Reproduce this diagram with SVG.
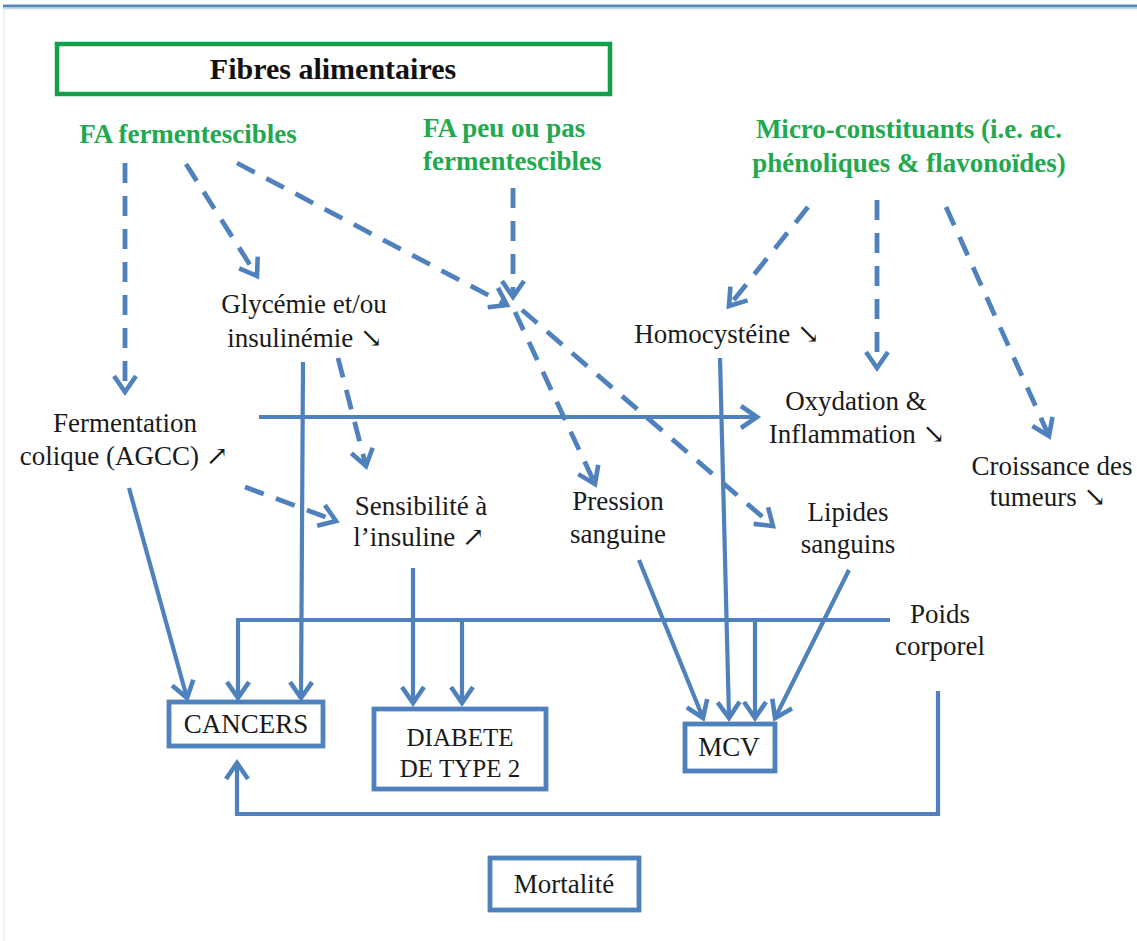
<svg xmlns="http://www.w3.org/2000/svg" width="1137" height="941" viewBox="0 0 1137 941">
<defs>
<style>
.ln{fill:none;stroke:#4F81BD;stroke-width:4.2;stroke-linecap:butt;stroke-linejoin:miter}
.dash{fill:none;stroke:#4F81BD;stroke-width:4.8;stroke-dasharray:20 13}
.box{fill:#fff;stroke:#4F81BD;stroke-width:4.8}
.lbl{font-family:"Liberation Serif","DejaVu Serif",serif;font-size:27px;fill:#1a1a1a;text-anchor:middle}
.grn{font-family:"Liberation Serif","DejaVu Serif",serif;font-size:27px;font-weight:bold;fill:#22a94f}
</style>
<marker id="ah" markerUnits="userSpaceOnUse" viewBox="0 0 24 28" markerWidth="24" markerHeight="28" refX="19" refY="14" orient="auto" overflow="visible">
<path d="M3,3 L19,14 L3,25" fill="none" stroke="#4F81BD" stroke-width="4.6"/>
</marker>
</defs>
<rect width="1137" height="941" fill="#fff"/>
<line x1="4" y1="8" x2="4" y2="941" stroke="#e4e4e4" stroke-width="1"/>
<line x1="3" y1="6" x2="1137" y2="6" stroke="#5a88b5" stroke-width="3"/>
<line x1="3" y1="8.5" x2="1137" y2="8.5" stroke="#b9dbf0" stroke-width="1.5"/>

<g id="connectors">
<path class="dash" d="M125,163 L125,392" marker-end="url(#ah)"/>
<path class="dash" d="M186,164 L257,276" marker-end="url(#ah)"/>
<path class="dash" d="M237,163 L507,305" marker-end="url(#ah)"/>
<path class="dash" d="M513,188 L513,297" marker-end="url(#ah)"/>
<path class="dash" d="M515,312 L595,484" marker-end="url(#ah)"/>
<path class="dash" d="M522,310 L773,526" marker-end="url(#ah)"/>
<path class="dash" d="M338,358 L366,466" marker-end="url(#ah)"/>
<path class="dash" d="M245,487 L336,521" marker-end="url(#ah)"/>
<path class="dash" d="M808,207 L729,306" marker-end="url(#ah)"/>
<path class="dash" d="M877,200 L877,368" marker-end="url(#ah)"/>
<path class="dash" d="M946,207 L1049,436" marker-end="url(#ah)"/>

<path class="ln" d="M259,417 L757,417" marker-end="url(#ah)"/>
<path class="ln" d="M303,362 L301,698" marker-end="url(#ah)"/>
<path class="ln" d="M129,488 L187,698" marker-end="url(#ah)"/>
<path class="ln" d="M890,620 L238,620 L238,698" marker-end="url(#ah)"/>
<path class="ln" d="M462,620 L462,703" marker-end="url(#ah)"/>
<path class="ln" d="M755,620 L755,718" marker-end="url(#ah)"/>
<path class="ln" d="M413,568 L413,703" marker-end="url(#ah)"/>
<path class="ln" d="M720,358 L729,718" marker-end="url(#ah)"/>
<path class="ln" d="M639,560 L703,718" marker-end="url(#ah)"/>
<path class="ln" d="M849,570 L775,718" marker-end="url(#ah)"/>
<path class="ln" d="M938,691 L938,814 L237,814 L237,763" marker-end="url(#ah)"/>
</g>

<g id="fibres">
<rect x="57" y="44" width="553" height="50" fill="#fff" stroke="#14a04a" stroke-width="4.5"/>
<text x="333" y="79" style="font-family:'Liberation Serif','DejaVu Serif',serif;font-size:30px;font-weight:bold;fill:#111;text-anchor:middle">Fibres alimentaires</text>
</g>
<g id="fa-ferm">
<text class="grn" x="188" y="143" text-anchor="middle">FA fermentescibles</text>
</g>
<g id="fa-peu">
<text class="grn" x="423" y="137">FA peu ou pas</text>
<text class="grn" x="423" y="170">fermentescibles</text>
</g>
<g id="micro">
<text class="grn" x="909" y="138" text-anchor="middle">Micro-constituants (i.e. ac.</text>
<text class="grn" x="909" y="172" text-anchor="middle">phénoliques &amp; flavonoïdes)</text>
</g>
<g id="glycemie">
<text class="lbl" x="304" y="313">Glycémie et/ou</text>
<text class="lbl" x="305" y="347">insulinémie ↘</text>
</g>
<g id="fermentation">
<text class="lbl" x="125" y="432">Fermentation</text>
<text class="lbl" x="124" y="465">colique (AGCC) ↗</text>
</g>
<g id="sensibilite">
<text class="lbl" x="421" y="515">Sensibilité à</text>
<text class="lbl" x="419" y="546">l’insuline ↗</text>
</g>
<g id="pression">
<text class="lbl" x="618" y="510">Pression</text>
<text class="lbl" x="618" y="543">sanguine</text>
</g>
<g id="homocysteine">
<text class="lbl" x="727" y="343">Homocystéine ↘</text>
</g>
<g id="oxydation">
<text class="lbl" x="856" y="410">Oxydation &amp;</text>
<text class="lbl" x="857" y="443">Inflammation ↘</text>
</g>
<g id="croissance">
<text class="lbl" x="1052" y="475">Croissance des</text>
<text class="lbl" x="1048" y="506">tumeurs ↘</text>
</g>
<g id="lipides">
<text class="lbl" x="848" y="521">Lipides</text>
<text class="lbl" x="848" y="553">sanguins</text>
</g>
<g id="poids">
<text class="lbl" x="940" y="623">Poids</text>
<text class="lbl" x="940" y="655">corporel</text>
</g>
<g id="cancers">
<rect class="box" x="169" y="702" width="154" height="44"/>
<text class="lbl" x="246" y="733">CANCERS</text>
</g>
<g id="diabete">
<rect class="box" x="374" y="709" width="172" height="80"/>
<text class="lbl" x="460" y="746" style="font-size:25px">DIABETE</text>
<text class="lbl" x="460" y="777" style="font-size:25px">DE TYPE 2</text>
</g>
<g id="mcv">
<rect class="box" x="685" y="724" width="90" height="47"/>
<text class="lbl" x="729" y="756">MCV</text>
</g>
<g id="mortalite">
<rect class="box" x="490" y="858" width="149" height="52"/>
<text class="lbl" x="564" y="893">Mortalité</text>
</g>
</svg>
